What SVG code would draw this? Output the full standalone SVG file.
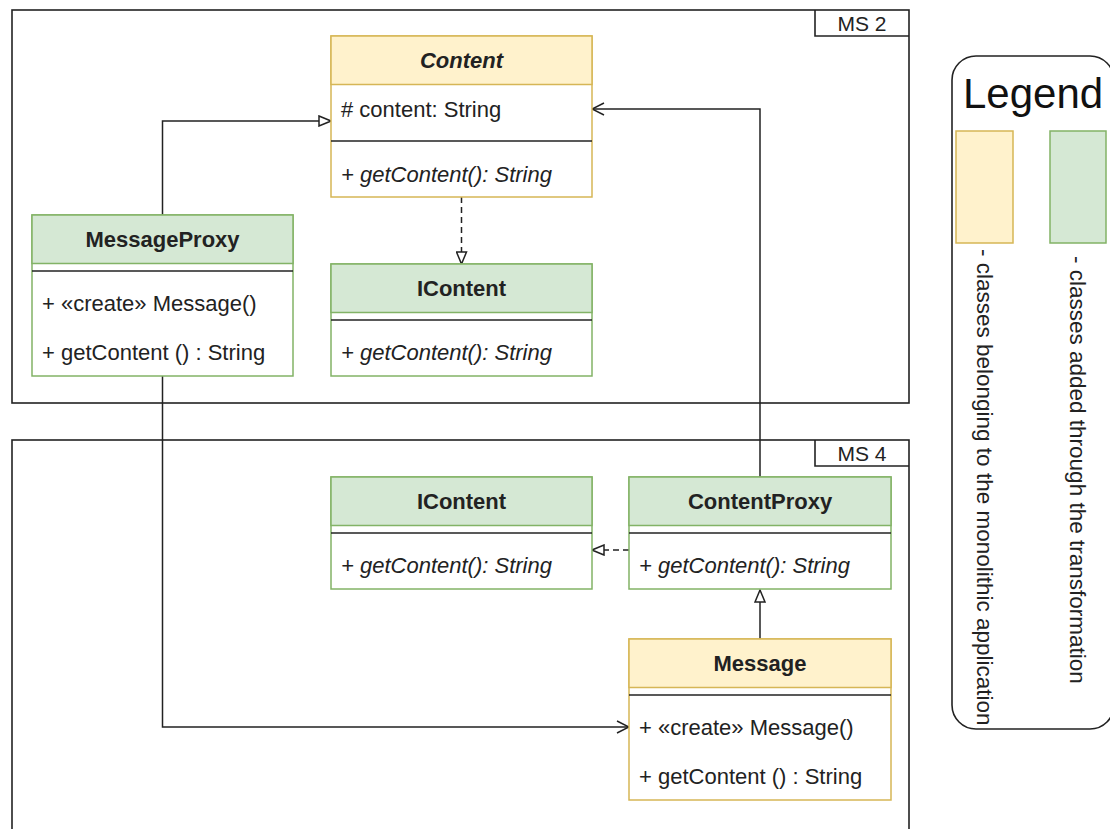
<svg xmlns="http://www.w3.org/2000/svg" width="1110" height="829" viewBox="0 0 1110 829">
<style>
text{font-family:"Liberation Sans",Arial,sans-serif;fill:#222;}
.t{font-size:22px;}
.lg{font-size:22.5px;}
.h{font-size:22px;font-weight:bold;text-anchor:middle;}
.i{font-style:italic;}
.frame{fill:none;stroke:#222;stroke-width:1.6;}
.box{fill:#fff;stroke-width:1.5;}
.y{stroke:#d6b656;}
.g{stroke:#82b366;}
.yh{fill:#fff2cc;stroke:#d6b656;stroke-width:1.5;}
.gh{fill:#d5e8d4;stroke:#82b366;stroke-width:1.5;}
.sep{stroke:#222;stroke-width:1.5;}
.c{fill:none;stroke:#222;stroke-width:1.5;}
.d{stroke-dasharray:6 4;}
.lab{font-size:21px;text-anchor:middle;}
</style>
<defs>
<marker id="tri" viewBox="0 0 14 12" refX="13" refY="6" markerWidth="14" markerHeight="12" markerUnits="userSpaceOnUse" orient="auto">
<path d="M1,1 L13,6 L1,11 Z" fill="#fff" stroke="#222" stroke-width="1.5" stroke-dasharray="none"/>
</marker>
<marker id="open" viewBox="0 0 14 14" refX="13" refY="7" markerWidth="14" markerHeight="14" markerUnits="userSpaceOnUse" orient="auto">
<path d="M1,1 L13,7 L1,13" fill="none" stroke="#222" stroke-width="1.5" stroke-dasharray="none"/>
</marker>
</defs>

<g id="ms2">
<rect class="frame" x="12" y="10" width="897" height="393"/>
<path class="frame" d="M815,10 V36 H909"/>
<text class="lab" x="862" y="31">MS 2</text>
</g>
<g id="ms4">
<rect class="frame" x="12" y="440" width="897" height="420"/>
<path class="frame" d="M815,440 V466 H909"/>
<text class="lab" x="862" y="461">MS 4</text>
</g>

<g id="connectors">
<path class="c" d="M162.5,215 V121 H331" marker-end="url(#tri)"/>
<path class="c d" d="M461.5,197 V264" marker-end="url(#tri)"/>
<path class="c" d="M760,477 V109 H592" marker-end="url(#open)"/>
<path class="c d" d="M629,550 H592" marker-end="url(#tri)"/>
<path class="c" d="M760,639 V590" marker-end="url(#tri)"/>
<path class="c" d="M162.5,376 V727 H629" marker-end="url(#open)"/>
</g>

<g id="content">
<rect class="box y" x="331" y="36" width="261" height="161"/>
<rect class="yh" x="331" y="36" width="261" height="48.5"/>
<text class="h i" x="461.5" y="68">Content</text>
<text class="t" x="341" y="117"># content: String</text>
<line class="sep" x1="331" y1="141" x2="592" y2="141"/>
<text class="t i" x="341" y="182">+ getContent(): String</text>
</g>

<g id="messageproxy">
<rect class="box g" x="32" y="215" width="261" height="161"/>
<rect class="gh" x="32" y="215" width="261" height="48.5"/>
<text class="h" x="162.5" y="247">MessageProxy</text>
<line class="sep" x1="32" y1="271" x2="293" y2="271"/>
<text class="t" x="42" y="311">+ «create» Message()</text>
<text class="t" x="42" y="359.5">+ getContent () : String</text>
</g>

<g id="icontent-ms2">
<rect class="box g" x="331" y="264" width="261" height="112"/>
<rect class="gh" x="331" y="264" width="261" height="48.5"/>
<text class="h" x="461.5" y="296">IContent</text>
<line class="sep" x1="331" y1="320" x2="592" y2="320"/>
<text class="t i" x="341" y="360">+ getContent(): String</text>
</g>

<g id="icontent-ms4">
<rect class="box g" x="331" y="477" width="261" height="112"/>
<rect class="gh" x="331" y="477" width="261" height="48.5"/>
<text class="h" x="461.5" y="509">IContent</text>
<line class="sep" x1="331" y1="533" x2="592" y2="533"/>
<text class="t i" x="341" y="573">+ getContent(): String</text>
</g>

<g id="contentproxy">
<rect class="box g" x="629" y="477" width="262" height="112"/>
<rect class="gh" x="629" y="477" width="262" height="48.5"/>
<text class="h" x="760" y="509">ContentProxy</text>
<line class="sep" x1="629" y1="533" x2="891" y2="533"/>
<text class="t i" x="639" y="573">+ getContent(): String</text>
</g>

<g id="message">
<rect class="box y" x="629" y="639" width="262" height="161"/>
<rect class="yh" x="629" y="639" width="262" height="48.5"/>
<text class="h" x="760" y="671">Message</text>
<line class="sep" x1="629" y1="695" x2="891" y2="695"/>
<text class="t" x="639" y="735">+ «create» Message()</text>
<text class="t" x="639" y="783.5">+ getContent () : String</text>
</g>

<g id="legend">
<rect x="952" y="56" width="162" height="673" rx="24" ry="24" fill="#fff" stroke="#222" stroke-width="1.6"/>
<text x="963" y="108" style="font-size:42px;fill:#111">Legend</text>
<rect x="956" y="131" width="57" height="112" fill="#fff2cc" stroke="#d6b656" stroke-width="1.5"/>
<rect x="1050" y="131" width="56" height="112" fill="#d5e8d4" stroke="#82b366" stroke-width="1.5"/>
<text class="lg" transform="translate(977,249) rotate(90)" x="0" y="0">- classes belonging to the monolithic application</text>
<text class="lg" transform="translate(1070,256) rotate(90)" x="0" y="0">- classes added through the transformation</text>
</g>
</svg>
